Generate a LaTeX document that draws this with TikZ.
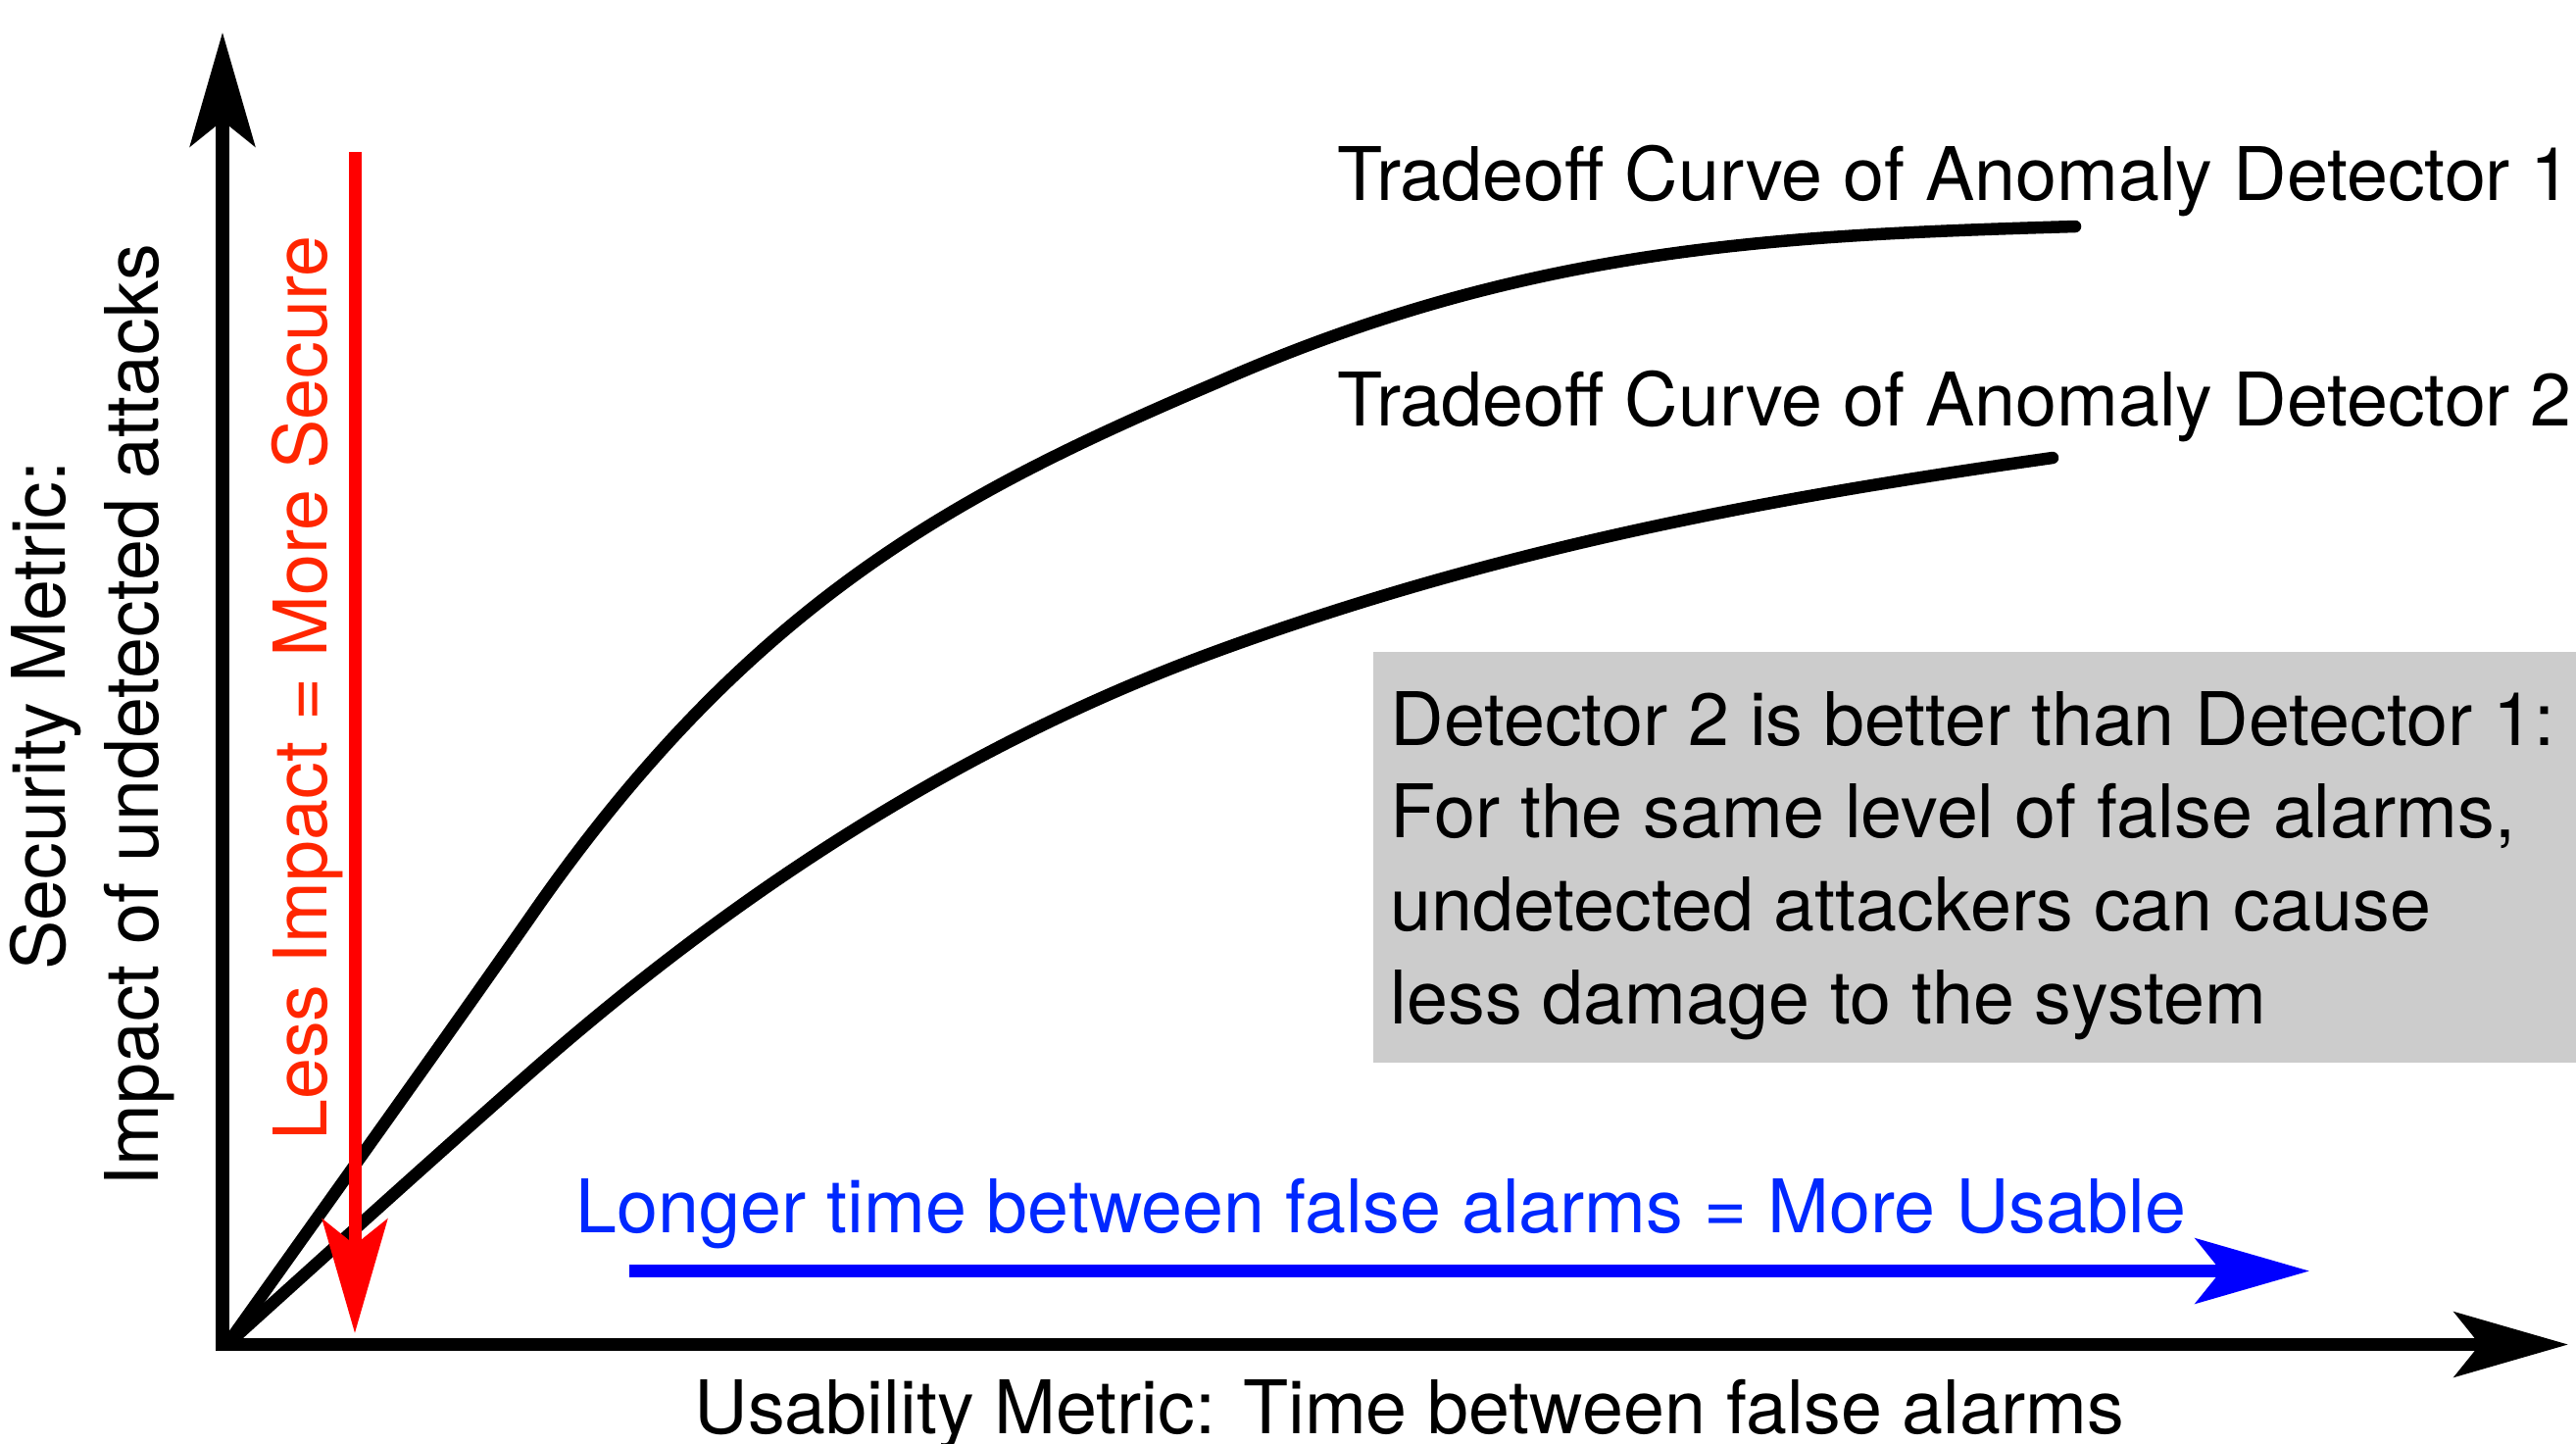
\documentclass[tikz,border=0pt]{standalone}
\usepackage{fontspec}
\setmainfont{TeX Gyre Heros}
\usetikzlibrary{arrows.meta}
\definecolor{boxgray}{HTML}{CCCCCC}
\definecolor{txtred}{RGB}{255,38,0}
\definecolor{txtblue}{RGB}{0,40,255}
\tikzset{
  bigtip/.tip={Stealth[length=1.16cm,width=0.66cm,inset=0.26cm]},
  lbl/.style={inner sep=0pt, font=\fontsize{21.45pt}{26.97pt}\selectfont},
  axisline/.style={line width=0.13cm, line join=miter, black},
  curveline/.style={line width=0.125cm, line cap=round, line join=round, black},
  redarrow/.style={line width=0.13cm, red, -{bigtip}},
  bluearrow/.style={line width=0.13cm, blue, -{bigtip}},
  notebox/.style={fill=boxgray, draw=none, inner sep=0pt, minimum width=12.28cm, minimum height=4.19cm}
}
\begin{document}
\begin{tikzpicture}[x=0.01cm,y=-0.01cm]
\useasboundingbox (0,0) rectangle (2628,1472);
\fill[white] (0,0) rectangle (2628,1472);

% note box
\node[notebox, anchor=north west] (box) at (1400,664) {};
\node[lbl, anchor=base west] (boxtext) at (1418,760) {\begin{tabular}[t]{@{}l@{}}Detector 2 is better than Detector 1:\\For the same level of false alarms,\\undetected attackers can cause\\less damage to the system\end{tabular}};

% axes
\coordinate (O) at (227,1371.5);
\coordinate (Ytip) at (227,33);
\coordinate (Xtip) at (2620,1371.5);
\draw[axisline, {bigtip}-{bigtip}] (Ytip) -- (O) -- (Xtip);

% tradeoff curves
\coordinate (c1start) at (232,1371);
\coordinate (c1end) at (2117,231);
\coordinate (c2start) at (232,1371);
\coordinate (c2end) at (2094,467);
\draw[curveline] (c1start) .. controls (330,1233) and (440,1080) .. (540,937)
  .. controls (770,604) and (992,497) .. (1242,390)
  .. controls (1560,250) and (1817,240) .. (c1end);
\draw[curveline] (c2start) .. controls (335,1278) and (440,1183) .. (540,1095)
  .. controls (780,884) and (1012,748) .. (1242,664)
  .. controls (1532,558) and (1804,508) .. (c2end);

% red arrow
\coordinate (Rtop) at (362,155);
\coordinate (Rtip) at (362,1360);
\draw[redarrow] (Rtop) -- (Rtip);

% blue arrow
\coordinate (Bstart) at (642,1296.5);
\coordinate (Btip) at (2356,1296.5);
\draw[bluearrow] (Bstart) -- (Btip);

% labels
\node[lbl, anchor=base west] (lab1) at (1364,204) {Tradeoff Curve of Anomaly Detector 1};
\node[lbl, anchor=base west] (lab2) at (1364,434) {Tradeoff Curve of Anomaly Detector 2};
\node[lbl, rotate=90, anchor=base, text=txtred] (redlabel) at (333,702) {Less Impact = More Secure};
\node[lbl, anchor=base west, text=txtblue] (bluelabel) at (587,1257) {Longer time between false alarms = More Usable};
\node[lbl, anchor=base] (xlabel) at (1438,1462) {Usability Metric: Time between false alarms};
\node[lbl, rotate=90, anchor=base] (ylabel) at (67,730) {\begin{tabular}[t]{@{}c@{}}Security Metric:\\Impact of undetected attacks\end{tabular}};
\end{tikzpicture}
\end{document}
